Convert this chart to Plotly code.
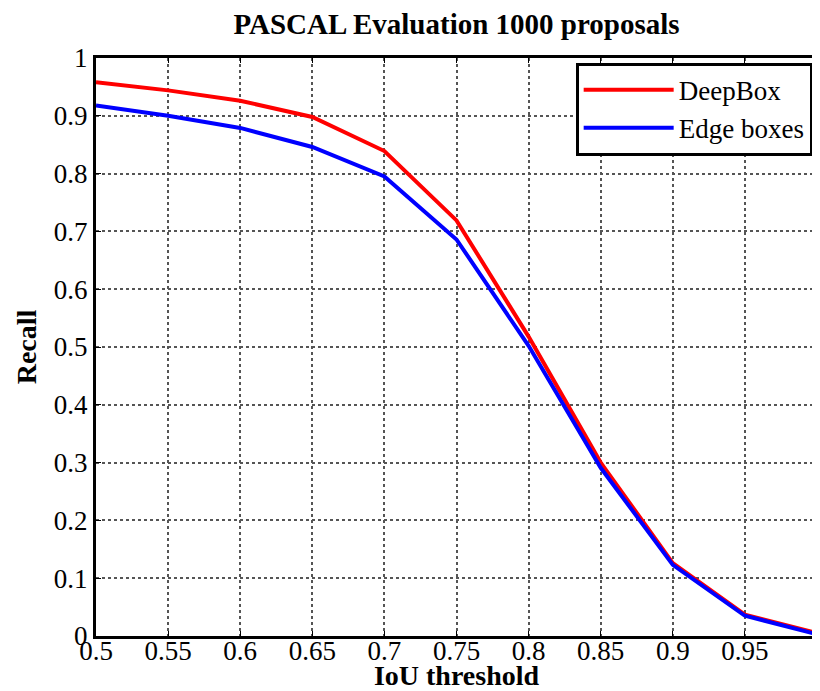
import plotly.graph_objects as go

iou = [0.5, 0.55, 0.6, 0.65, 0.7, 0.75, 0.8, 0.85, 0.9, 0.95, 1.0]
deepbox = [0.958, 0.944, 0.926, 0.898, 0.839, 0.719, 0.518, 0.300, 0.126, 0.037, 0.005]
edgeboxes = [0.918, 0.900, 0.879, 0.846, 0.795, 0.686, 0.502, 0.291, 0.123, 0.035, 0.003]
x_ticks = [0.5, 0.55, 0.6, 0.65, 0.7, 0.75, 0.8, 0.85, 0.9, 0.95, 1.0]
x_ticklabels = ["0.5", "0.55", "0.6", "0.65", "0.7", "0.75", "0.8", "0.85", "0.9", "0.95", "1"]

serif = "Liberation Serif"

fig = go.Figure()
fig.add_trace(go.Scatter(x=iou, y=deepbox, mode="lines", name="DeepBox",
                         line=dict(color="#ff0000", width=4)))
fig.add_trace(go.Scatter(x=iou, y=edgeboxes, mode="lines", name="Edge boxes",
                         line=dict(color="#0000ff", width=4)))

axis_common = dict(showline=True, linecolor="black", linewidth=3, mirror="ticks",
                   ticks="inside", ticklen=5, tickcolor="black",
                   showgrid=True, gridcolor="#555555", griddash="dot", gridwidth=1.5,
                   zeroline=False, automargin=False, ticklabeloverflow="allow",
                   tickfont=dict(family=serif, size=27, color="black"))

# page body has an 8px default margin, so the figure is sized to fit the 820x691 window
fig.update_layout(
    width=812, height=683,
    margin=dict(l=88, r=3, t=50, b=55),
    paper_bgcolor="white", plot_bgcolor="white",
    title=dict(text="<b>PASCAL Evaluation 1000 proposals</b>", x=0.5, xanchor="center",
               xref="paper", yref="container",
               y=0.977, yanchor="middle", font=dict(family=serif, size=29, color="black")),
    xaxis=dict(range=[0.5, 1.0], tickmode="array", tickvals=x_ticks, ticktext=x_ticklabels,
               ticklabelstandoff=-11,
               title=dict(text="<b>IoU threshold</b>", font=dict(family=serif, size=28, color="black"),
                          standoff=4),
               **axis_common),
    yaxis=dict(range=[0, 1], dtick=0.1, tick0=0,
               title=dict(text="<b>Recall</b>", font=dict(family=serif, size=28, color="black"),
                          standoff=10),
               **axis_common),
    legend=dict(x=0.994, y=0.992, xanchor="right", yanchor="top",
                bgcolor="white", bordercolor="black", borderwidth=3,
                font=dict(family=serif, size=27, color="black"),
                itemwidth=90, tracegroupgap=0),
    showlegend=True,
)

fig.write_html("out.html")
